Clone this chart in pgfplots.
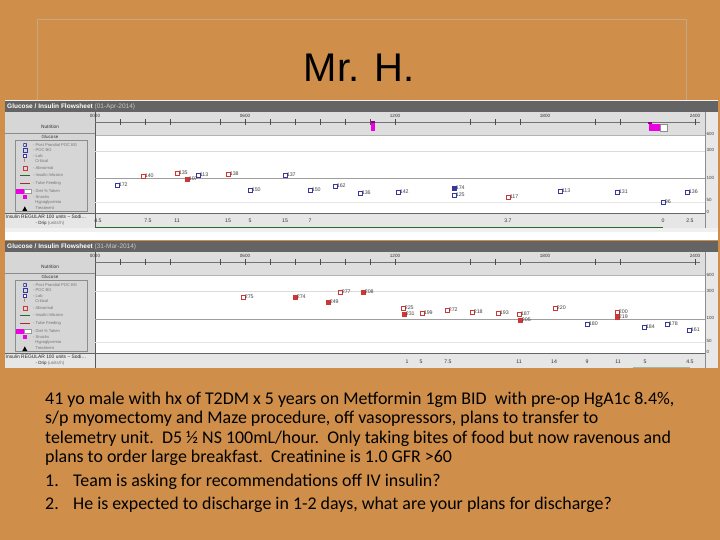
\documentclass[border=0pt]{standalone}
\usepackage{pgfplots}
\pgfplotsset{compat=1.18}
\usepackage{fontspec}
\setmainfont{Liberation Sans}
\newfontfamily\carlito{Carlito}
\definecolor{bg}{RGB}{207,142,73}
\definecolor{frm}{RGB}{196,168,130}
\definecolor{hdr}{RGB}{100,100,100}
\definecolor{rowg}{RGB}{222,222,222}
\definecolor{panel}{RGB}{214,214,214}
\definecolor{insg}{RGB}{230,230,230}
\definecolor{poc}{RGB}{55,55,160}
\definecolor{abn}{RGB}{205,55,55}
\definecolor{mag}{RGB}{235,0,225}
\definecolor{insl}{RGB}{40,105,40}
\definecolor{legt}{RGB}{115,115,115}
\newcommand\fsz[1]{\fontsize{#1}{#1}\selectfont}

\pgfplotsset{
  flowaxis/.style={
    scale only axis, width=610pt, height=116pt,
    xmin=0, xmax=24.4, y dir=reverse, clip=false,
    axis line style={draw=none}, xtick=\empty,
    major tick length=0pt, yticklabel pos=right,
    yticklabel style={font=\fsz{4.5}, text=black!75, inner sep=1.5pt},
  },
  glab/.style={nodes near coords, point meta=explicit symbolic,
    every node near coord/.append style={anchor=west, font=\fsz{5.3}, text=black!75, inner sep=0pt, xshift=1.6pt}},
  tlab/.style={draw=none, nodes near coords, point meta=explicit symbolic,
    every node near coord/.append style={anchor=center, font=\fsz{#1}, text=black!80, inner sep=0pt}},
  hourtick/.style={only marks, mark=|, mark size=3.2pt, black!70, line width=0.5pt},
  sq/.style={only marks, mark=square, mark size=2.2pt, line width=0.5pt},
  sqf/.style={only marks, mark=square*, mark size=2.2pt, line width=0.5pt},
}

\newcommand\frameshot[2]{%
 \begin{scope}[shift={(0,#1)}]
  \fill[hdr] (5,101) rectangle (718,112);
  \node[anchor=west, inner sep=0, text=white, font=\fsz{6.5}\bfseries] at (7,106.6) {Glucose / Insulin Flowsheet \mdseries\textcolor{black!22}{(#2)}};
  \fill[rowg] (95,112) rectangle (705,135);
  \fill[panel] (5,112) rectangle (95,213);
  \fill[white] (95,135) rectangle (705,213);
  \fill[black!9] (705,112) rectangle (718,228);
  \fill[insg] (5,213) rectangle (705,228);
  \draw[black!45, line width=0.5pt] (5,133) -- (95,133);
  \draw[black!30, line width=0.5pt] (95,135) -- (705,135);
  \draw[black!65, line width=0.9pt] (95,112) -- (95,228);
  \draw[black!60, line width=0.9pt] (5,213) -- (705,213);
  \draw[black!45, line width=0.6pt] (705,112) -- (705,228);
  \draw[black!45, line width=0.5pt] (15,140.5) rectangle (87,211.5);
  \node[font=\fsz{4.8}, text=black!80] at (50,127) {Nutrition};
  \node[font=\fsz{4.5}, text=black!80] at (50,137) {Glucose};
  \fill[poc] (22.5,142.8) rectangle (27,147.2);
  \draw[white, line width=0.4pt] (23.3,143.6) -- (26.2,146.4) (23.3,146.4) -- (26.2,143.6);
  \draw[poc, line width=0.6pt] (22.8,148.5) rectangle (26.8,152.5);
  \fill[poc] (22.5,153.8) rectangle (27,158.2);
  \fill[white] (23.6,155) rectangle (25.9,157);
  \node[text=abn, font=\fsz{5}\bfseries, inner sep=0] at (24.8,161) {!};
  \draw[abn, line width=0.6pt] (22.8,166) rectangle (26.8,170);
  \draw[insl, line width=1.3pt] (19.5,175.5) -- (30,175.5);
  \draw[abn!80!black, line width=1.3pt] (19.5,183.5) -- (30,183.5);
  \fill[mag] (16,188.8) rectangle (24,193.6);
  \draw[black!40, fill=white, line width=0.4pt] (24,188.8) rectangle (31,193.6);
  \fill[mag] (23,195) rectangle (26.5,199.2);
  \fill[black] (22.3,211) -- (24.8,206.4) -- (27.3,211) -- cycle;
  \begin{scope}[every node/.style={anchor=west, inner sep=0, font=\fsz{4.1}, text=legt}]
   \node at (33,145) {- Post Prandial POC BG};
   \node at (33,150.5) {- POC BG};
   \node at (33,156) {- Lab};
   \node at (33,161.2) {\ \ Critical};
   \node at (33,168) {- Abnormal};
   \node at (33,175.5) {- Insulin Infusion};
   \node at (33,183.5) {- Tube Feeding};
   \node at (33,191.2) {- Diet \% Taken};
   \node at (33,197) {- Snacks};
   \node at (33,202.6) {\ \ Hypoglycemia};
   \node at (33,208.6) {\ \ Treatment};
  \end{scope}
  \node[font=\fsz{4.9}, anchor=west, inner sep=0, text=black!85] at (5.5,216.6) {Insulin REGULAR 100 units -- Sodi\dots};
  \node[font=\fsz{4.5}, text=black!85] at (50,223.6) {- Drip \textcolor{legt}{(units/h)}};
 \end{scope}}

\begin{document}
\begin{tikzpicture}
\begin{scope}[x=1pt, y=-1pt]
\fill[bg] (0,0) rectangle (720,540);
\draw[frm, line width=1pt] (37,20) rectangle (686,120);
\node[font=\fsz{40}, text=black, inner sep=0] at (359,68) {Mr. H.};
\fill[black!6] (5,100) rectangle (718,240);
\fill[white] (5,232) rectangle (718,240);
\frameshot{0}{01-Apr-2014}
\frameshot{140}{31-Mar-2014}
\begin{scope}[every node/.style={anchor=base west, inner sep=0, font=\carlito\fsz{17.9}, text=black}]
 \node at (45,404) {41 yo male with hx of T2DM x 5 years on Metformin 1gm BID\ \ with pre-op HgA1c 8.4\%,};
 \node at (45,423.5) {s/p myomectomy and Maze procedure, off vasopressors, plans to transfer to};
 \node at (45,443) {telemetry unit.\ \ D5 ½ NS 100mL/hour.\ \ Only taking bites of food but now ravenous and};
 \node at (45,462.5) {plans to order large breakfast.\ \ Creatinine is 1.0 GFR >60};
 \node at (45,486) {1.};
 \node at (73,486) {Team is asking for recommendations off IV insulin?};
 \node at (45,509) {2.};
 \node at (73,509) {He is expected to discharge in 1-2 days, what are your plans for discharge?};
\end{scope}
\end{scope}

% ---------- top flowsheet (01-Apr-2014) ----------
\begin{axis}[flowaxis, at={(95pt,-112pt)}, anchor=north west, ymin=112, ymax=228,
  ytick={134,150,178,200,212}, yticklabels={600,300,100,50,0}]
 \addplot[black!14, line width=0.5pt] coordinates {(0,151) (24.4,151)};
 \addplot[black!38, line width=0.6pt] coordinates {(0,178) (24.4,178)};
 \addplot[black!10, line width=0.5pt] coordinates {(0,202) (24.4,202)};
 \addplot[black!55, line width=0.5pt] coordinates {(0,122) (24.2,122)};
 \addplot[hourtick] coordinates {(1,122) (2,122) (3,122) (5,122) (6,122) (7,122) (8,122) (9,122) (10,122) (11,122) (12,122) (15,122) (16,122) (17,122) (20,122) (21,122) (24,122)};
 \addplot[tlab=4.6] table[meta=l, row sep=\\] {x y l\\ 0 116 0000\\ 6 116 0600\\ 12 116 1200\\ 18 116 1800\\ 24 116 2400\\};
 \addplot[mag!60!black, line width=4pt] coordinates {(11.12,121.5) (11.12,123.5)};
 \addplot[mag, line width=4.5pt] coordinates {(11.12,123.5) (11.12,131)};
 \addplot[mag!60!black, line width=3.5pt] coordinates {(22.2,122.5) (22.2,124.5)};
 \addplot[mag, line width=7pt] coordinates {(22.16,128) (22.6,128)};
 \addplot[black!45, fill=white, line width=0.4pt] coordinates {(22.6,124.5) (22.9,124.5) (22.9,131.5) (22.6,131.5) (22.6,124.5)};
 \addplot[sq, draw=poc, glab] table[meta=l, row sep=\\] {x y l\\
  0.88 185 172\\ 4.12 175 113\\ 6.2 190 150\\ 7.6 175 137\\ 8.6 190 150\\ 9.6 186 162\\
  10.6 193 136\\ 12.12 192 142\\ 14.36 195 125\\ 18.6 191 113\\ 20.88 192 131\\ 22.72 202 96\\ 23.68 192 136\\};
 \addplot[sqf, draw=poc, fill=poc, glab] table[meta=l, row sep=\\] {x y l\\ 14.36 188 174\\};
 \addplot[sq, draw=abn, glab] table[meta=l, row sep=\\] {x y l\\
  1.92 176 140\\ 3.28 173 135\\ 5.32 174 138\\ 16.52 197 117\\};
 \addplot[sqf, draw=abn, fill=abn, glab] table[meta=l, row sep=\\] {x y l\\ 3.68 179 107\\};
 \addplot[tlab=5.2] table[meta=l, row sep=\\] {x y l\\
  0.12 220.5 4.5\\ 2.12 220.5 7.5\\ 3.28 220.5 11\\ 5.32 220.5 15\\ 6.2 220.5 5\\ 7.6 220.5 15\\
  8.6 220.5 7\\ 16.52 220.5 3.7\\ 22.72 220.5 0\\ 23.8 220.5 2.5\\};
 \addplot[insl, line width=1.2pt] coordinates {(0,227.3) (22.72,227.3)};
\end{axis}

% ---------- bottom flowsheet (31-Mar-2014) ----------
\begin{axis}[flowaxis, at={(95pt,-252pt)}, anchor=north west, ymin=252, ymax=368,
  ytick={275,291,318,341,352}, yticklabels={600,300,100,50,0}]
 \addplot[black!14, line width=0.5pt] coordinates {(0,291) (24.4,291)};
 \addplot[black!38, line width=0.6pt] coordinates {(0,319) (24.4,319)};
 \addplot[black!10, line width=0.5pt] coordinates {(0,342) (24.4,342)};
 \addplot[black!55, line width=0.5pt] coordinates {(0,262) (24.2,262)};
 \addplot[hourtick] coordinates {(1,262) (2,262) (3,262) (5,262) (6,262) (7,262) (8,262) (9,262) (10,262) (11,262) (12,262) (15,262) (16,262) (17,262) (20,262) (21,262) (24,262)};
 \addplot[tlab=4.6] table[meta=l, row sep=\\] {x y l\\ 0 256 0000\\ 6 256 0600\\ 12 256 1200\\ 18 256 1800\\ 24 256 2400\\};
 \addplot[sq, draw=abn, glab] table[meta=l, row sep=\\] {x y l\\
  5.92 297 275\\ 9.8 292 277\\ 12.32 308 225\\ 13.08 313 199\\ 14.08 310 272\\ 15.08 312 218\\
  16.12 313 193\\ 16.96 314 187\\ 18.4 308 220\\ 20.88 312 200\\};
 \addplot[sqf, draw=abn, fill=abn, glab] table[meta=l, row sep=\\] {x y l\\
  8.0 297 274\\ 9.32 302 249\\ 10.72 292 208\\ 12.36 314 231\\ 17.0 320 205\\ 20.88 317 219\\};
 \addplot[sq, draw=poc, glab] table[meta=l, row sep=\\] {x y l\\
  19.68 324 180\\ 21.96 327 184\\ 22.88 324 178\\ 23.76 330 161\\};
 \addplot[tlab=5.2] table[meta=l, row sep=\\] {x y l\\
  12.48 361.5 1\\ 13.04 361.5 5\\ 14.12 361.5 7.5\\ 16.96 361.5 11\\ 18.36 361.5 14\\
  19.68 361.5 9\\ 20.92 361.5 11\\ 22.0 361.5 5\\ 23.8 361.5 4.5\\};
 \addplot[insl!45!white, line width=1pt] coordinates {(21.52,367.3) (23.8,367.3)};
\end{axis}
\end{tikzpicture}
\end{document}
